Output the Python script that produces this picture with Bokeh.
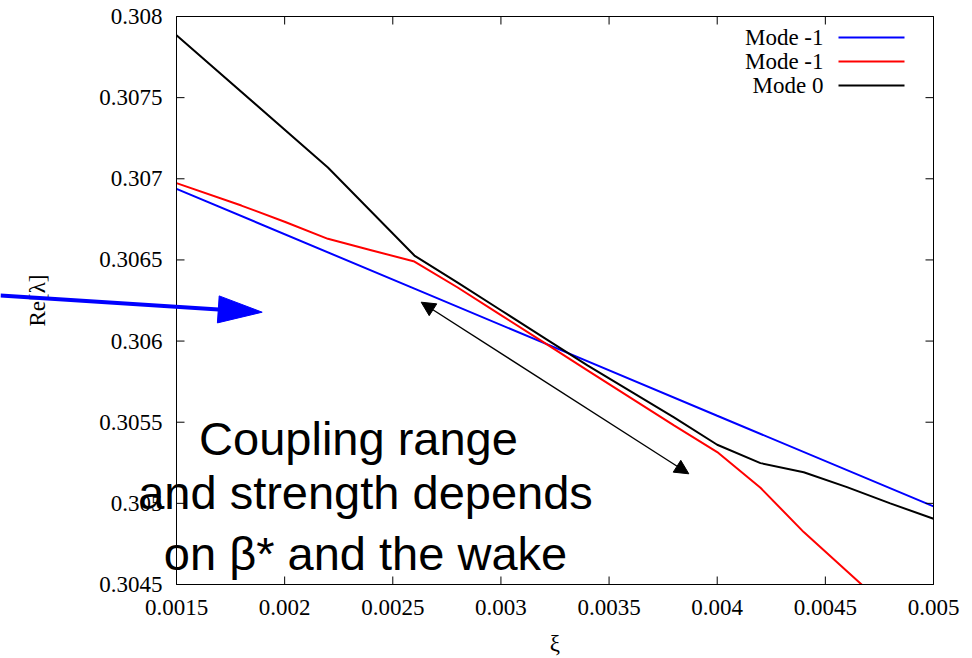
import math
from bokeh.plotting import figure
from bokeh.models import Range1d, Arrow, NormalHead, PolyAnnotation
from bokeh.core.properties import value
from bokeh.embed import file_html
from bokeh.resources import INLINE

# ---- data ----
xi_blue = [0.0015, 0.0026, 0.0033, 0.0040, 0.0050]
re_blue = [0.306938, 0.306323, 0.305932, 0.305540, 0.304981]

xi_red = [0.0015, 0.0018, 0.0020, 0.0022, 0.0024, 0.0026, 0.0028, 0.0030, 0.0032,
          0.0034, 0.0036, 0.0038, 0.0040, 0.0042, 0.0044, 0.0046, 0.0048]
re_red = [0.306973, 0.306835, 0.306735, 0.306630, 0.306560, 0.306490, 0.306330,
          0.306160, 0.305990, 0.305820, 0.305650, 0.305480, 0.305316, 0.305096,
          0.304823, 0.304581, 0.304340]

xi_black = [0.0015, 0.0022, 0.0026, 0.0028, 0.0030, 0.0032, 0.0034, 0.0036, 0.0038,
            0.0040, 0.0042, 0.0044, 0.0046, 0.0048, 0.0050]
re_black = [0.307885, 0.307070, 0.306527, 0.306360, 0.306190, 0.306020, 0.305850,
            0.305690, 0.305530, 0.305361, 0.305248, 0.305192, 0.305100, 0.305000,
            0.304905]

series_labels = ["Mode -1", "Mode -1", "Mode 0"]
series_colors = ["#0000ff", "#ff0000", "#000000"]

x_ticks = [0.0015, 0.002, 0.0025, 0.003, 0.0035, 0.004, 0.0045, 0.005]
x_tick_labels = ["0.0015", "0.002", "0.0025", "0.003", "0.0035", "0.004", "0.0045", "0.005"]
y_ticks = [0.3045, 0.305, 0.3055, 0.306, 0.3065, 0.307, 0.3075, 0.308]
y_tick_labels = ["0.3045", "0.305", "0.3055", "0.306", "0.3065", "0.307", "0.3075", "0.308"]

x_title = "ξ"
y_title = "Re[λ]"
annotation_lines = ["Coupling range", "and strength depends", "on β* and the wake"]

SERIF = "Liberation Serif"
SANS = "Liberation Sans"

X0, X1 = 0.0015, 0.005
Y0, Y1 = 0.3045, 0.308
W, H = 972, 658
FL, FR, FT, FB = 176, 933, 16, 584   # plot-box edges in page pixels
TICK = 8


def px2x(px):
    return X0 + (px - FL) / (FR - FL) * (X1 - X0)


def py2y(py):
    return Y1 - (py - FT) / (FB - FT) * (Y1 - Y0)


# The frame covers the whole page so that the annotations can overflow the plot
# box as in the reference; the gnuplot-style box axes are drawn from the tick arrays.
p = figure(width=W, height=H, output_backend="svg", toolbar_location=None,
           x_range=Range1d(px2x(0), px2x(W)), y_range=Range1d(py2y(H), py2y(0)),
           x_axis_location=None, y_axis_location=None,
           min_border_left=0, min_border_right=0, min_border_top=0,
           min_border_bottom=0)
p.grid.visible = False
p.outline_line_color = None
p.background_fill_color = "white"
p.border_fill_color = "white"

# data lines
p.line(xi_blue, re_blue, line_color=series_colors[0], line_width=2)
p.line(xi_red, re_red, line_color=series_colors[1], line_width=2)
p.line(xi_black, re_black, line_color=series_colors[2], line_width=2)

# clip the curves at the bottom of the plot box (as the plot range does)
p.quad(left=[X0], right=[X1], bottom=[py2y(H)], top=[Y0], fill_color="white",
       line_color=None)

# plot box
p.quad(left=[X0], right=[X1], bottom=[Y0], top=[Y1], fill_color=None,
       line_color="black", line_width=1)

# inward ticks on all four sides
nx, ny = len(x_ticks), len(y_ticks)
dy_tick = py2y(FB - TICK) - Y0
dx_tick = px2x(FL + TICK) - X0
p.segment(x0=x_ticks, y0=[Y0] * nx, x1=x_ticks, y1=[Y0 + dy_tick] * nx,
          line_color="black", line_width=1)
p.segment(x0=x_ticks, y0=[Y1] * nx, x1=x_ticks, y1=[Y1 - dy_tick] * nx,
          line_color="black", line_width=1)
p.segment(x0=[X0] * ny, y0=y_ticks, x1=[X0 + dx_tick] * ny, y1=y_ticks,
          line_color="black", line_width=1)
p.segment(x0=[X1] * ny, y0=y_ticks, x1=[X1 - dx_tick] * ny, y1=y_ticks,
          line_color="black", line_width=1)

# tick labels and axis titles
p.text(x=x_ticks, y=[py2y(607)] * nx, text=x_tick_labels, text_align="center",
       text_baseline="middle", text_font=value(SERIF), text_font_size="23px",
       text_color="black")
p.text(x=[px2x(162)] * ny, y=y_ticks, text=y_tick_labels, text_align="right",
       text_baseline="middle", text_font=value(SERIF), text_font_size="23px",
       text_color="black")
p.text(x=[(X0 + X1) / 2], y=[py2y(643)], text=[x_title], text_align="center",
       text_baseline="middle", text_font=value(SERIF), text_font_size="23px",
       text_color="black")
p.text(x=[px2x(37)], y=[(Y0 + Y1) / 2], text=[y_title], angle=math.pi / 2,
       text_align="center", text_baseline="middle", text_font=value(SERIF),
       text_font_size="23px", text_color="black")

# gnuplot-style key (label left of sample)
key_x_text = px2x(823)
key_x0, key_x1 = px2x(838), px2x(904)
key_y = [py2y(37), py2y(61), py2y(85)]
p.text(x=[key_x_text] * 3, y=key_y, text=series_labels, text_align="right",
       text_baseline="middle", text_font=value(SERIF), text_font_size="23px",
       text_color="black")
p.segment(x0=[key_x0] * 3, y0=key_y, x1=[key_x1] * 3, y1=key_y,
          line_color=series_colors, line_width=2)

# annotation text
p.text(x=[px2x(358), px2x(365), px2x(365)], y=[py2y(438), py2y(492), py2y(553)],
       text=annotation_lines, text_align="center", text_baseline="alphabetic",
       text_font=value(SANS), text_font_size="47px", text_color="black")

# big blue arrow entering from the left edge of the page
p.add_layout(PolyAnnotation(xs=[px2x(0), px2x(222)], ys=[py2y(295), py2y(309.2)],
                            fill_color=None, line_color="#0000ff", line_alpha=1.0,
                            line_width=4))
p.add_layout(PolyAnnotation(xs=[px2x(261.7), px2x(216.9), px2x(218.7)],
                            ys=[py2y(311.7), py2y(322.4), py2y(295.4)],
                            fill_color="#0000ff", fill_alpha=1.0, line_alpha=1.0,
                            line_color="#0000ff", line_width=1))

# black double-headed arrow
p.add_layout(Arrow(x_start=px2x(420.7), y_start=py2y(301.7),
                   x_end=px2x(688.3), y_end=py2y(473.3),
                   line_color="black", line_width=1.3,
                   start=NormalHead(size=14, fill_color="black", line_color="black"),
                   end=NormalHead(size=14, fill_color="black", line_color="black")))

open("out.html", "w").write(file_html(p, INLINE))
